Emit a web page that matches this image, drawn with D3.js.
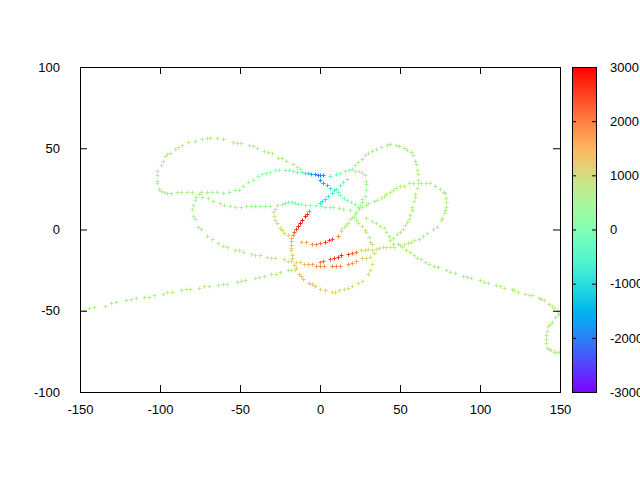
<!DOCTYPE html>
<html>
<head>
<meta charset="utf-8">
<script src="https://cdn.jsdelivr.net/npm/d3@7"></script>
<style>
  body { margin: 0; background: #fff; }
  svg { display: block; font-family: "Liberation Sans", Arial, sans-serif; font-size: 13px; }
</style>
</head>
<body>
<div id="chart"></div>
<script>
const leftTail = [
  [-147.5,-49.5,650],[-144.4,-48.3,650],[-141.3,-47.7,650],[-134.4,-47.1,650],[-130.6,-45.2,650],
  [-127.5,-44.6,650],[-121.3,-43.4,650],[-118.1,-42.8,650],[-115,-42.2,650],[-110,-41.5,650],
  [-106.9,-41.5,650],[-103.8,-40.3,650],[-98.1,-39.7,650],[-95.6,-38.5,650],[-92.5,-38.5,650],
  [-86.9,-37.2,650],[-83.8,-36.6,650],[-81.3,-36.6,650],[-75.6,-36,650],[-72.5,-34.8,650],
  [-69.4,-34.8,650],[-63.8,-34.2,650],[-60.6,-33.5,650],[-58.1,-33.5,650],[-51.9,-32.3,650],
  [-49.4,-31.7,650],[-46.9,-31.1,650],[-40.6,-29.8,650],[-38.1,-29.2,650],[-35,-28.6,650],
  [-30.6,-27.4,650],[-27.5,-27.4,700],[-25,-26.2,700],[-20,-24.9,750],[-18.1,-24.9,800],[-15.6,-24.9,850]
]

const upperLoop = [
  [-12.5,37.2,700],[-14.4,38.5,700],[-16.9,40.3,700],[-21.3,42.2,700],[-23.8,44,700],[-26.3,44,700],
  [-30,47.1,700],[-32.5,47.7,700],[-35,48.3,700],[-39.4,50.2,700],[-41.9,51.4,700],[-44.4,52,700],
  [-49.4,53.2,700],[-51.9,53.2,700],[-54.4,53.8,700],[-60.6,55.7,700],[-64.4,56.3,700],[-68.8,56.3,700],
  [-70.6,56.3,700],[-73.8,55.7,700],[-78.1,54.5,700],[-82.5,53.8,700],[-86.3,52,700],[-88.8,50.8,700],
  [-90.6,49.5,700],[-93.8,47.1,700],[-95.6,46.5,700],[-96.9,45.2,700],[-98.1,42.2,700],[-99.4,39.7,700],
  [-101.9,36,700],[-101.9,33.5,700],[-101.9,29.8,700],[-101.9,28.6,700],[-100.6,24.9,650],[-99.4,23.7,650],
  [-97.5,23.1,650],[-95.6,22.5,650],[-93.1,22.5,600],[-89.4,23.1,600],[-86.9,23.1,600],[-83.1,23.1,600],
  [-80,23.1,550],[-74.4,23.1,550],[-70.6,23.1,500],[-67.5,23.1,500],[-64.4,23.1,500],[-60.6,22.5,450],
  [-56.9,23.1,450],[-53.1,24.3,400],[-50.6,24.3,400],[-48.1,26.8,400],[-45,29.2,350],[-41.9,30.5,350],
  [-38.8,32.9,300],[-36.3,34.2,300],[-33.8,34.8,250],[-31.3,35.4,250],[-28.1,36.6,200],[-25.6,36.6,200],
  [-21.9,36.6,150],[-19.4,36.6,100],[-16.9,36,0],[-14.4,35.4,-100],[-11.3,35.4,-300]
]

const blueSeg = [
  [-9.4,34.8,-700],[-7.5,34.8,-1100],[-5.6,34.2,-1600],[-3.1,34.2,-1900],[-1.3,33.5,-2100],
  [0,33.5,-2000],[1.9,33.5,-1900],[0,30.5,-1700],[1.9,28.6,-1500],[4.4,27.4,-1300]
]

const blueDown = [
  [6.3,25.5,-900],[8.8,24.3,-600],[11.3,23.1,-300],[12.5,21.2,-100],[15,19.4,0],
  [16.9,18.2,100],[19.4,16.9,200],[21.9,15.7,300],[23.8,13.8,400]
]

const toRight = [
  [6.3,32.9,-300],[10,34.2,-100],[12.5,34.8,100],[15.6,36,200],[18.1,36.6,300],[21.9,36,400],
  [24.4,36,400],[26.3,34.8,500],[28.1,33.5,500],[28.8,29.8,500],[28.8,28,500],[28.8,24.3,500],
  [28.1,20.6,500],[26.3,18.8,500],[26.3,16.9,500],[25,15.1,500],[24.4,12.6,500],[22.5,10.8,500],
  [21.9,9.5,500],[20,7.7,500],[18.8,6.5,550],[17.5,4,550],[16.3,2.8,600],[15,1.5,650],[13.1,0.3,700]
]

const rowA = [
  [13.1,-0.9,900],[11.3,-4,2000],[7.5,-5.8,2500],[5.6,-6.5,2600],[3.1,-7.7,2600],
  [0,-8.3,2200],[-2.5,-8.9,2000],[-5,-8.9,1900],[-8.8,-7.7,1700],[-11.9,-7.7,1500]
]

const cyanDiag = [
  [20,37.2,400],[16.9,31.1,100],[14.4,29.2,-100],[12.5,27.4,-300],[10,24.9,-500],
  [7.5,22.5,-700],[5,20.6,-800],[3.1,18.8,-900],[1.3,17.5,-900],[0,16.3,-800]
]

const rightLoop = [
  [21.9,39.7,550],[23.8,41.5,600],[26.3,43.4,600],[28.1,45.8,600],[30,47.1,650],[32.5,48.3,650],
  [35,49.5,650],[38.1,50.8,650],[41.9,52,650],[43.8,52.6,650],[47.5,52,650],[49.4,51.4,650],
  [52.5,50.2,650],[54.4,48.9,650],[56.9,47.7,650],[58.1,45.8,650],[59.4,42.2,650],[60,40.3,650],
  [60.6,36.6,650],[61.3,34.2,650],[61.3,30.5,650],[61.3,28.6,650],[60.6,25.5,650],[59.4,21.8,650],
  [59.4,20,650],[58.8,17.5,650],[57.5,13.8,650],[57.5,12,650],[56.3,8.9,650],[55.6,6.5,650],
  [54.4,4.6,650],[53.1,2.8,650],[51.9,0.3,650],[50,-1.5,650],[48.1,-2.8,650],[45.6,-5.2,650],[43.8,-6.5,650]
]

const rightLobe = [
  [45.6,24.3,650],[47.5,25.5,650],[50,26.8,650],[52.5,26.8,650],[55.6,28.6,650],[58.1,28.6,650],
  [63.1,28.6,650],[66.3,28.6,650],[68.8,28.6,650],[71.9,26.8,650],[75,24.9,650],[76.9,23.1,650],
  [78.1,22.5,650],[78.8,19.4,650],[78.8,16.9,650],[78.8,13.8,650],[78.1,12,650],[77.5,10.2,650],
  [76.3,7.1,650],[75.6,5.8,650],[73.1,1.5,650],[70.6,0.3,650],[66.9,-2.2,650],[64.4,-4,650],
  [61.9,-5.8,650],[58.8,-6.5,650],[56.9,-7.7,650],[55,-8.3,700],[52.5,-8.9,700],[50,-9.5,700],
  [46.3,-10.8,700],[43.8,-10.8,750],[41.3,-10.8,750],[39.4,-10.8,800],[36.9,-11.4,800],[35,-12,850],
  [32.5,-12.6,900],[30,-12,950],[28.1,-12.6,1000],[25.6,-12.6,1100]
]

const lobeIn = [
  [43.8,23.1,650],[41.3,21.8,650],[40,20.6,650],[38.1,19.4,650],[35.6,18.2,650],
  [33.8,17.5,650],[30,16.3,600],[28.8,15.1,600],[26.3,13.8,600]
]

const toTail = [
  [28.8,7.1,600],[32.5,5.2,600],[35,4,600],[37.5,2.2,650],[40,0.9,650],
  [41.3,-1.5,650],[43.1,-4,650],[45.6,-8.9,650],[48.8,-8.9,650]
]

const rightTail = [
  [51.3,-10.8,650],[53.8,-12.6,650],[56.3,-13.8,650],[58.8,-15.7,650],[60.6,-17.5,650],[63.1,-18.2,650],
  [65.6,-20,650],[68.1,-21.2,650],[71.3,-22.5,650],[73.8,-23.1,650],[78.8,-24.9,650],[81.3,-26.2,650],
  [84.4,-26.8,650],[89.4,-28.6,650],[91.9,-29.2,650],[94.4,-29.8,650],[100,-31.1,650],[102.5,-32.3,650],
  [105,-32.9,650],[110,-34.2,650],[112.5,-34.8,650],[115,-36,650],[120,-36.6,650],[121.3,-37.2,650],
  [123.8,-38.5,650],[128.1,-39.7,700],[130.6,-40.3,700],[132.5,-40.3,700],[136.9,-42.2,700],[138.1,-42.8,700],
  [140,-43.4,700],[143.1,-45.8,700],[145,-47.1,700],[146.3,-48.3,700],[148.1,-50.2,700],[149.4,-51.4,700],
  [148.8,-52.6,700],[146.9,-53.8,700],[145,-56.9,700],[143.8,-58.2,700],[142.5,-59.4,700],[141.9,-62.5,700],
  [141.3,-64.9,700],[141.3,-67.4,700],[141.3,-69.8,700],[141.9,-72.9,700],[143.1,-73.5,700],[144.4,-74.2,700],
  [146.3,-75.4,700],[147.5,-75.4,700],[149.4,-75.4,700]
]

const midRow = [
  [-73.8,20,550],[-70,19.4,550],[-66.9,17.5,500],[-62.5,16.3,500],[-60,15.1,500],[-56.3,14.5,500],
  [-53.1,13.8,500],[-49.4,13.8,450],[-46.3,14.5,450],[-43.1,14.5,450],[-40.6,14.5,400],[-37.5,14.5,400],
  [-34.4,14.5,350],[-31.3,14.5,300],[-26.9,15.1,250],[-23.8,15.7,200],[-21.9,16.3,150],[-20,16.9,100],
  [-17.5,16.9,100],[-15.6,16.3,100],[-13.8,15.7,150],[-11.9,15.7,200],[-9.4,15.1,250],[-6.3,15.1,300],
  [-2.5,15.1,350],[0.6,14.5,400],[3.1,13.8,400],[6.3,13.8,450],[8.1,13.8,450],[11.9,13.2,500],
  [14.4,12.6,500],[18.8,12,500]
]

const leftLower = [
  [-75.6,21.8,600],[-77.5,20,600],[-78.1,18.2,600],[-79.4,15.1,600],[-80,12.6,600],[-79.4,8.3,600],
  [-78.1,6.5,600],[-76.3,1.5,650],[-74.4,0.3,650],[-70.6,-4,650],[-67.5,-5.8,650],[-63.8,-8.3,650],
  [-60.6,-10.2,700],[-58.1,-10.8,700],[-53.1,-12.6,700],[-50.6,-12.6,700],[-48.1,-13.8,700],[-43.1,-15.1,750],
  [-40.6,-15.7,750],[-37.5,-15.7,750],[-33.1,-16.9,800],[-30.6,-17.5,800],[-28.1,-17.5,850],[-22.5,-18.2,900],
  [-20,-19.4,950],[-18.1,-19.4,1000],[-15,-20,1100]
]

const rowC = [
  [-12.5,-20,1200],[-10,-21.2,1400],[-7.5,-21.2,1600],[-5,-21.2,1700],[-2.5,-22.5,1800],[0,-22.5,1900],
  [2.5,-22.5,1900],[7.5,-22.5,2000],[10,-22.5,2000],[12.5,-22.5,1900],[17.5,-21.2,1900],[20,-20.6,1800],
  [22.5,-19.4,1700],[26.3,-17.5,1300],[28.8,-17.5,1200],[31.3,-16.9,1000]
]

const rowB = [
  [0,-20,2000],[1.9,-19.4,2200],[6.3,-18.2,2400],[8.8,-17.5,2600],[11.3,-16.9,2700],
  [13.1,-15.7,2700],[17.5,-15.1,2500],[20,-14.5,2300],[22.5,-13.8,2100]
]

const redDiag = [
  [-6.9,11.4,2000],[-8.1,9.5,2600],[-9.4,8.3,2800],[-11.3,5.8,2900],[-12.5,4,2900],
  [-13.8,2.2,2800],[-15,0.3,2600],[-16.3,-1.5,2300],[-16.9,-3.4,1800]
]

const lowerLoop = [
  [-18.1,-5.2,1500],[-18.1,-7.1,1400],[-18.1,-9.5,1400],[-18.1,-11.4,1300],[-18.1,-12.6,1300],
  [-17.5,-15.7,1300],[-17.5,-17.5,1300],[-16.3,-21.8,1300],[-15,-23.7,1300],[-13.1,-27.4,1300],
  [-11.9,-28.6,1300],[-10.6,-30.5,1300],[-6.9,-32.9,1300],[-5,-33.5,1300],[-3.1,-34.8,1300],
  [0,-36.6,1200],[3.1,-37.2,1200],[7.5,-38.5,1100],[9.4,-38.5,1100],[11.9,-37.2,1100],
  [15,-36.6,1000],[17.5,-36,1000],[20,-34.8,1000],[23.8,-32.9,1000],[26.3,-31.7,1000],
  [30,-27.4,1000],[31.3,-24.9,1000],[32.5,-21.2,1000],[33.8,-14.5,900],[32.5,-8.9,900],
  [31.3,-7.7,900],[30.6,-4.6,800],[28.8,-1.5,800],[28.1,-0.3,800],[26.3,2.2,800],
  [23.8,4,700],[22.5,5.8,700],[21.3,7.7,700]
]

const smallArc = [
  [-28.1,12.6,800],[-29.4,10.8,800],[-28.8,8.3,900],[-28.1,5.8,900],[-26.9,4,1000],
  [-25,0.9,1000],[-23.8,-0.3,1100],[-22.5,-2.2,1100],[-20,-3.4,1200]
]

const xTicks = [-150, -100, -50, 0, 50, 100, 150]
const yTicks = [-100, -50, 0, 50, 100]
const cbTicks = [-3000, -2000, -1000, 0, 1000, 2000, 3000]

const points = [].concat(leftTail, upperLoop, blueSeg, blueDown, toRight, rowA, cyanDiag,
  rightLoop, rightLobe, lobeIn, toTail, rightTail, midRow, leftLower, rowC, rowB,
  redDiag, lowerLoop, smallArc)

const width = 640, height = 480

const x = d3.scaleLinear().domain([-150, 150]).range([80, 560])
const y = d3.scaleLinear().domain([-100, 100]).range([392, 67])
const cb = d3.scaleLinear().domain([-3000, 3000]).range([392, 67])
const cbX0 = 572, cbX1 = 596

// gnuplot "rgbformulae 33,13,10" rainbow
const clamp = v => Math.max(0, Math.min(1, v))
const palette = t => d3.rgb(
  255 * clamp(Math.abs(2 * t - 0.5)),
  255 * clamp(Math.sin(Math.PI * t)),
  255 * clamp(Math.cos(Math.PI * t / 2)))
const toT = d3.scaleLinear().domain([-3000, 3000]).range([0, 1]).clamp(true)
const color = v => palette(toT(v))

// plain labels with an ascii minus, like gnuplot
const plain = d => String(d)

const svg = d3.select("#chart").append("svg")
  .attr("width", width)
  .attr("height", height)

// points
svg.append("g")
  .selectAll("path")
  .data(points)
  .join("path")
  .attr("transform", d => `translate(${Math.round(x(d[0])) + 0.5},${Math.round(y(d[1])) + 0.5})`)
  .attr("d", "M-2,0H2M0,-2V2")
  .attr("fill", "none")
  .attr("stroke", d => color(d[2]))
  .attr("stroke-width", 1)

// axes, ticks pointing inward on all four sides
const styleAxis = g => {
  g.select(".domain").remove()
  g.selectAll("line").attr("stroke", "#000")
  g.selectAll("text").attr("fill", "#000").style("font-size", "13px")
    .style("font-family", "'Liberation Sans', Arial, sans-serif")
}

svg.append("g").attr("transform", "translate(0,392)")
  .call(d3.axisBottom(x).tickValues(xTicks).tickSize(-7).tickPadding(13).tickFormat(plain))
  .call(styleAxis)
svg.append("g").attr("transform", "translate(0,67)")
  .call(d3.axisTop(x).tickValues(xTicks).tickSize(-7).tickFormat(""))
  .call(styleAxis)
svg.append("g").attr("transform", "translate(80,0)")
  .call(d3.axisLeft(y).tickValues(yTicks).tickSize(-7).tickPadding(20).tickFormat(plain))
  .call(styleAxis)
svg.append("g").attr("transform", "translate(560,0)")
  .call(d3.axisRight(y).tickValues(yTicks).tickSize(-7).tickFormat(""))
  .call(styleAxis)

svg.append("rect")
  .attr("x", 80.5).attr("y", 67.5)
  .attr("width", 480).attr("height", 325)
  .attr("fill", "none").attr("stroke", "#000")

// colour box
const grad = svg.append("defs").append("linearGradient")
  .attr("id", "cbgrad")
  .attr("x1", 0).attr("y1", 1).attr("x2", 0).attr("y2", 0)
grad.selectAll("stop")
  .data(d3.range(0, 1.0001, 0.02))
  .join("stop")
  .attr("offset", d => d)
  .attr("stop-color", d => palette(d))

svg.append("rect")
  .attr("x", cbX0 + 0.5).attr("y", 67.5)
  .attr("width", cbX1 - cbX0).attr("height", 325)
  .attr("fill", "url(#cbgrad)")
  .attr("stroke", "#000")

svg.append("g").attr("transform", `translate(${cbX0},0)`)
  .call(d3.axisLeft(cb).tickValues(cbTicks).tickSize(-4).tickFormat(""))
  .call(styleAxis)
svg.append("g").attr("transform", `translate(${cbX1},0)`)
  .call(d3.axisRight(cb).tickValues(cbTicks).tickSize(-4).tickPadding(14).tickFormat(plain))
  .call(styleAxis)
</script>
</body>
</html>
